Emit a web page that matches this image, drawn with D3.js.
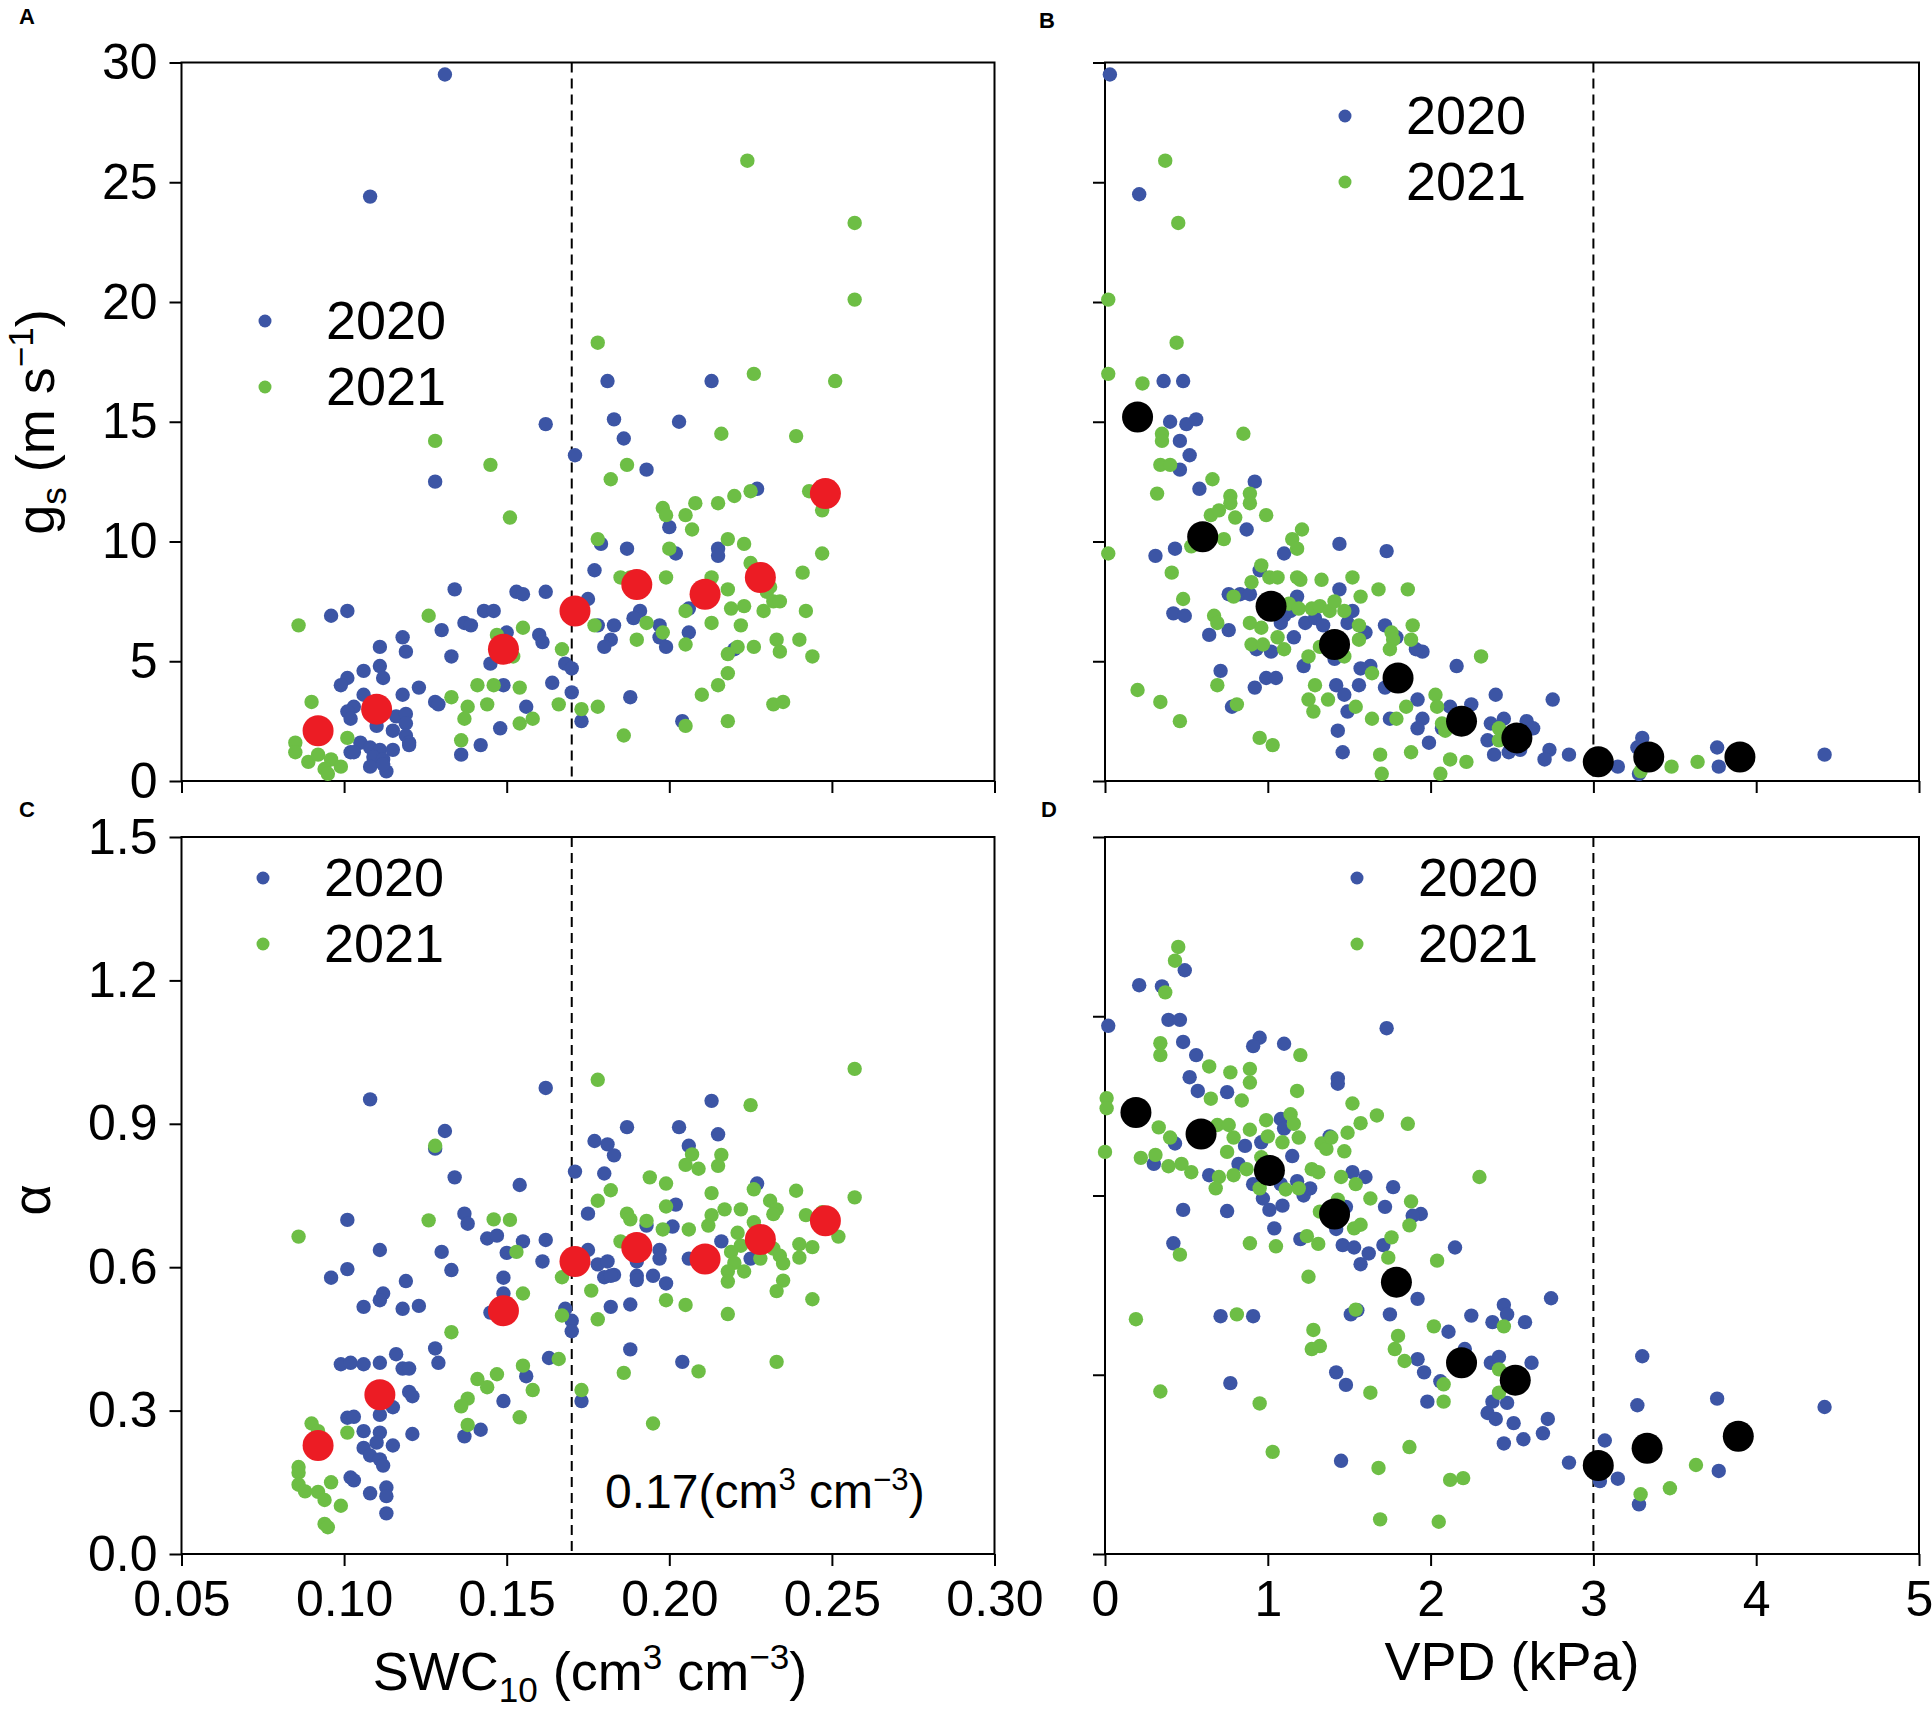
<!DOCTYPE html>
<html>
<head>
<meta charset="utf-8">
<script src="https://cdn.jsdelivr.net/npm/d3@7"></script>
<style>
  body { margin: 0; background: #fff; }
  svg { display: block; font-family: 'Liberation Sans', Arial, sans-serif; }
</style>
</head>
<body>
<svg id="chart" width="1932" height="1710"></svg>
<script>
// ---- data ----
const years = ['2020', '2021']

const gsTicks = [0, 5, 10, 15, 20, 25, 30]
const alphaTicks = [0, 0.3, 0.6, 0.9, 1.2, 1.5]
const alphaTicksD = [0, 0.3, 0.6, 0.9, 1.2]
const swcTicks = [0.05, 0.10, 0.15, 0.20, 0.25, 0.30]
const vpdTicks = [0, 1, 2, 3, 4, 5]

const swcBreak = 0.17
const vpdBreak = 3

// A: SWC vs gs
const swcGs2020 = [[0.131,29.5],[0.108,24.4],[0.181,16.7],[0.213,16.7],[0.162,14.9],[0.183,15.1],[0.186,14.3],[0.203,15.0],[0.171,13.6],[0.193,13.0],[0.128,12.5],[0.227,12.2],[0.200,10.6],[0.202,9.5],[0.179,9.9],[0.187,9.7],[0.215,9.7],[0.215,9.4],[0.177,8.8],[0.134,8.0],[0.153,7.9],[0.155,7.8],[0.162,7.9],[0.175,7.6],[0.143,7.1],[0.146,7.1],[0.096,6.9],[0.101,7.1],[0.130,6.3],[0.137,6.6],[0.139,6.5],[0.150,6.2],[0.160,6.1],[0.161,5.8],[0.178,6.5],[0.183,6.5],[0.182,5.9],[0.180,5.6],[0.191,7.1],[0.189,6.8],[0.197,6.5],[0.197,6.0],[0.199,5.6],[0.206,6.2],[0.206,7.2],[0.220,5.5],[0.118,6.0],[0.119,5.4],[0.111,5.6],[0.133,5.2],[0.145,4.9],[0.111,4.8],[0.112,4.3],[0.106,4.6],[0.101,4.3],[0.099,4.0],[0.168,4.9],[0.170,4.7],[0.164,4.1],[0.149,4.0],[0.123,3.9],[0.118,3.6],[0.106,3.6],[0.170,3.7],[0.188,3.5],[0.128,3.3],[0.129,3.2],[0.156,3.1],[0.103,3.1],[0.101,2.9],[0.102,2.6],[0.116,2.7],[0.119,2.8],[0.119,2.4],[0.173,2.5],[0.204,2.5],[0.148,2.2],[0.110,2.3],[0.115,2.1],[0.119,1.9],[0.120,1.6],[0.120,1.5],[0.142,1.5],[0.136,1.1],[0.105,1.6],[0.102,1.2],[0.103,1.2],[0.108,1.4],[0.111,1.3],[0.115,1.3],[0.109,1.0],[0.112,0.9],[0.108,0.6],[0.113,0.4],[0.112,0.7]]
const swcGs2021 = [[0.224,25.9],[0.257,23.3],[0.257,20.1],[0.178,18.3],[0.226,17.0],[0.251,16.7],[0.128,14.2],[0.216,14.5],[0.239,14.4],[0.145,13.2],[0.187,13.2],[0.182,12.6],[0.151,11.0],[0.198,11.4],[0.199,11.1],[0.205,11.1],[0.208,11.6],[0.215,11.6],[0.220,11.9],[0.225,12.1],[0.243,12.1],[0.207,10.5],[0.178,10.1],[0.218,10.1],[0.223,9.9],[0.200,9.7],[0.247,9.5],[0.247,11.3],[0.225,9.1],[0.185,8.5],[0.188,8.5],[0.199,8.5],[0.213,8.5],[0.218,8.0],[0.241,8.7],[0.230,7.9],[0.232,7.5],[0.234,7.5],[0.229,7.1],[0.219,7.2],[0.223,7.3],[0.205,7.1],[0.242,7.1],[0.126,6.9],[0.086,6.5],[0.155,6.4],[0.177,6.5],[0.193,6.6],[0.213,6.6],[0.222,6.5],[0.198,6.2],[0.190,5.9],[0.205,5.7],[0.167,5.5],[0.221,5.6],[0.226,5.6],[0.233,5.9],[0.234,5.4],[0.240,5.9],[0.244,5.2],[0.218,5.3],[0.147,6.1],[0.152,5.2],[0.218,4.5],[0.141,4.0],[0.146,4.0],[0.154,3.9],[0.215,4.0],[0.210,3.6],[0.232,3.2],[0.235,3.3],[0.133,3.5],[0.138,3.1],[0.144,3.2],[0.166,3.2],[0.173,3.0],[0.178,3.1],[0.090,3.3],[0.137,2.6],[0.154,2.4],[0.158,2.6],[0.218,2.5],[0.205,2.3],[0.186,1.9],[0.101,1.8],[0.136,1.7],[0.085,1.6],[0.085,1.2],[0.089,0.8],[0.092,1.1],[0.096,0.9],[0.099,0.6],[0.094,0.5],[0.095,0.3],[0.231,8.1]]
const swcGsMean = [[0.092,2.1],[0.110,3.0],[0.149,5.5],[0.171,7.1],[0.190,8.2],[0.211,7.8],[0.228,8.5],[0.248,12.0]]

// B: VPD vs gs
const vpdGs2020 = [[0.03,29.5],[0.21,24.5],[0.36,16.7],[0.48,16.7],[0.40,15.0],[0.50,14.9],[0.56,15.1],[0.46,14.2],[0.52,13.6],[0.46,13.0],[0.92,12.5],[0.58,12.2],[0.87,10.5],[0.31,9.4],[0.43,9.7],[1.44,9.9],[1.73,9.6],[1.10,9.5],[0.95,8.8],[0.76,7.8],[0.83,7.8],[0.89,7.8],[1.18,7.7],[1.44,8.0],[1.52,7.1],[0.42,7.0],[0.49,6.9],[1.10,6.9],[1.14,7.1],[1.08,6.6],[1.23,6.6],[1.29,6.8],[1.34,6.5],[1.49,6.6],[1.60,6.2],[1.72,6.5],[1.79,6.0],[0.64,6.1],[0.76,6.3],[0.93,5.5],[1.02,5.4],[1.16,6.0],[1.41,5.1],[1.95,5.4],[1.91,5.5],[1.63,4.8],[1.57,4.7],[1.22,4.8],[0.71,4.6],[2.16,4.8],[0.99,4.3],[1.05,4.3],[0.92,3.9],[1.56,4.0],[1.42,4.0],[1.72,3.9],[1.47,3.6],[1.49,2.9],[1.92,3.4],[2.25,3.2],[2.40,3.6],[2.75,3.4],[0.78,3.1],[2.12,3.1],[1.95,2.6],[1.92,2.2],[1.75,2.6],[1.43,2.1],[2.07,2.2],[2.37,2.4],[2.45,2.6],[2.59,2.5],[2.63,2.2],[2.58,1.9],[2.35,1.7],[2.39,1.1],[2.48,1.2],[2.55,1.3],[1.99,1.6],[2.73,1.3],[2.70,0.9],[2.85,1.1],[1.46,1.2],[3.30,1.8],[3.27,1.4],[3.15,0.6],[3.28,0.3],[3.76,1.4],[3.77,0.6],[4.42,1.1]]
const vpdGs2021 = [[0.37,25.9],[0.45,23.3],[0.02,20.1],[0.44,18.3],[0.02,17.0],[0.23,16.6],[0.35,14.5],[0.35,14.2],[0.85,14.5],[0.34,13.2],[0.40,13.2],[0.32,12.0],[0.66,12.6],[0.77,11.9],[0.77,11.6],[0.89,12.0],[0.89,11.6],[0.65,11.1],[0.70,11.3],[0.80,11.0],[0.99,11.1],[0.73,10.1],[0.53,9.8],[1.15,10.1],[1.21,10.5],[1.18,9.7],[0.02,9.5],[0.41,8.7],[0.96,9.0],[0.90,8.3],[1.01,8.5],[1.06,8.5],[1.18,8.5],[1.20,8.4],[1.33,8.4],[1.52,8.5],[1.68,8.0],[1.86,8.0],[0.79,7.7],[1.57,7.7],[0.48,7.6],[1.13,7.4],[1.19,7.2],[1.27,7.2],[1.32,7.3],[1.38,7.1],[1.41,7.5],[1.47,7.1],[0.67,6.9],[0.69,6.6],[0.89,6.6],[0.96,6.4],[1.06,6.0],[0.90,5.7],[0.97,5.7],[1.10,5.5],[1.56,6.5],[1.56,5.9],[1.76,6.2],[1.77,5.9],[1.89,6.5],[1.88,5.9],[1.75,5.5],[1.25,5.2],[1.32,5.6],[1.47,5.2],[2.31,5.2],[1.64,4.5],[0.69,4.0],[0.20,3.8],[0.81,3.2],[0.34,3.3],[1.29,4.0],[1.25,3.4],[1.28,2.9],[1.37,3.4],[1.54,3.1],[1.64,2.6],[1.79,2.6],[1.85,3.1],[2.03,3.6],[2.04,3.1],[2.07,2.4],[2.09,2.1],[2.42,2.2],[2.42,1.7],[0.46,2.5],[0.95,1.8],[1.03,1.5],[1.69,1.1],[1.70,0.3],[1.88,1.2],[2.06,0.3],[2.12,0.9],[2.22,0.8],[3.29,0.4],[3.48,0.6],[3.64,0.8]]
const vpdGsMean = [[0.20,15.2],[0.60,10.2],[1.02,7.3],[1.41,5.7],[1.80,4.3],[2.19,2.5],[2.53,1.8],[3.03,0.8],[3.34,1.0],[3.90,1.0]]

// C: SWC vs alpha
const swcAlpha2020 = [[0.108,0.951],[0.162,0.975],[0.213,0.948],[0.187,0.893],[0.203,0.893],[0.215,0.878],[0.131,0.885],[0.128,0.848],[0.177,0.864],[0.181,0.857],[0.183,0.834],[0.206,0.854],[0.171,0.800],[0.180,0.796],[0.134,0.788],[0.227,0.775],[0.154,0.772],[0.101,0.699],[0.137,0.712],[0.138,0.691],[0.175,0.712],[0.202,0.731],[0.201,0.685],[0.193,0.687],[0.144,0.660],[0.147,0.666],[0.155,0.654],[0.162,0.657],[0.175,0.636],[0.130,0.632],[0.111,0.636],[0.133,0.594],[0.101,0.596],[0.096,0.578],[0.150,0.630],[0.161,0.612],[0.119,0.571],[0.112,0.545],[0.111,0.531],[0.106,0.517],[0.118,0.513],[0.123,0.519],[0.149,0.578],[0.149,0.545],[0.145,0.505],[0.168,0.513],[0.170,0.488],[0.170,0.466],[0.178,0.606],[0.181,0.612],[0.183,0.584],[0.180,0.579],[0.182,0.582],[0.190,0.612],[0.190,0.582],[0.190,0.573],[0.195,0.582],[0.197,0.636],[0.197,0.618],[0.199,0.566],[0.182,0.517],[0.188,0.522],[0.206,0.618],[0.216,0.654],[0.225,0.618],[0.188,0.428],[0.204,0.402],[0.163,0.410],[0.128,0.430],[0.129,0.400],[0.116,0.418],[0.118,0.388],[0.120,0.388],[0.156,0.372],[0.099,0.397],[0.102,0.400],[0.106,0.397],[0.111,0.400],[0.120,0.339],[0.121,0.330],[0.115,0.307],[0.111,0.291],[0.149,0.320],[0.173,0.320],[0.137,0.246],[0.142,0.260],[0.101,0.285],[0.103,0.287],[0.106,0.257],[0.111,0.254],[0.110,0.233],[0.115,0.227],[0.121,0.251],[0.106,0.222],[0.108,0.206],[0.111,0.198],[0.112,0.185],[0.102,0.160],[0.103,0.154],[0.113,0.139],[0.108,0.127],[0.113,0.121],[0.113,0.085]]
const swcAlpha2021 = [[0.257,1.015],[0.178,0.992],[0.225,0.939],[0.128,0.854],[0.207,0.836],[0.205,0.814],[0.209,0.806],[0.216,0.835],[0.215,0.812],[0.194,0.788],[0.199,0.775],[0.226,0.763],[0.239,0.760],[0.257,0.746],[0.182,0.761],[0.178,0.739],[0.213,0.755],[0.199,0.727],[0.231,0.739],[0.233,0.721],[0.217,0.721],[0.213,0.709],[0.222,0.721],[0.226,0.694],[0.232,0.711],[0.242,0.709],[0.247,0.715],[0.126,0.698],[0.146,0.700],[0.151,0.699],[0.187,0.712],[0.188,0.700],[0.193,0.697],[0.198,0.679],[0.206,0.679],[0.212,0.687],[0.221,0.672],[0.222,0.645],[0.227,0.660],[0.232,0.639],[0.234,0.624],[0.235,0.608],[0.240,0.648],[0.240,0.620],[0.244,0.642],[0.247,0.700],[0.252,0.664],[0.086,0.664],[0.153,0.632],[0.185,0.654],[0.219,0.632],[0.220,0.609],[0.218,0.591],[0.223,0.591],[0.228,0.618],[0.235,0.572],[0.218,0.570],[0.155,0.545],[0.176,0.551],[0.233,0.550],[0.167,0.579],[0.199,0.531],[0.205,0.521],[0.244,0.533],[0.178,0.491],[0.218,0.502],[0.167,0.499],[0.133,0.464],[0.166,0.408],[0.155,0.394],[0.141,0.366],[0.147,0.376],[0.144,0.349],[0.158,0.343],[0.186,0.379],[0.209,0.382],[0.233,0.402],[0.173,0.343],[0.138,0.325],[0.136,0.309],[0.154,0.286],[0.138,0.270],[0.195,0.273],[0.090,0.273],[0.092,0.257],[0.101,0.254],[0.086,0.182],[0.086,0.170],[0.086,0.145],[0.088,0.131],[0.092,0.130],[0.094,0.113],[0.096,0.150],[0.099,0.101],[0.094,0.063],[0.095,0.056]]
const swcAlphaMean = [[0.092,0.227],[0.111,0.333],[0.149,0.509],[0.171,0.612],[0.190,0.641],[0.211,0.617],[0.228,0.658],[0.248,0.697]]

// D: VPD vs alpha
const vpdAlpha2020 = [[0.02,0.884],[0.21,0.952],[0.35,0.950],[0.49,0.977],[0.39,0.894],[0.46,0.894],[0.48,0.857],[0.56,0.835],[0.95,0.864],[0.91,0.850],[1.10,0.854],[1.73,0.880],[0.52,0.798],[0.57,0.775],[0.75,0.773],[1.43,0.796],[1.43,0.787],[0.43,0.687],[0.30,0.653],[0.64,0.634],[0.86,0.683],[0.96,0.689],[0.82,0.653],[0.91,0.619],[1.08,0.728],[1.10,0.712],[1.15,0.666],[1.08,0.619],[0.97,0.595],[1.01,0.576],[1.09,0.583],[1.18,0.624],[1.22,0.600],[1.26,0.612],[1.38,0.699],[1.52,0.639],[1.60,0.631],[1.48,0.581],[1.42,0.544],[1.77,0.614],[1.72,0.581],[1.94,0.569],[1.89,0.566],[1.04,0.545],[1.20,0.527],[1.46,0.517],[1.53,0.513],[1.57,0.485],[1.62,0.503],[1.71,0.517],[0.48,0.576],[0.75,0.574],[0.42,0.520],[1.92,0.427],[1.75,0.401],[1.51,0.401],[1.55,0.408],[0.71,0.398],[0.91,0.398],[2.15,0.513],[2.74,0.428],[2.25,0.399],[2.11,0.372],[2.45,0.417],[2.38,0.388],[2.47,0.401],[2.58,0.388],[2.21,0.343],[1.92,0.326],[1.96,0.304],[2.06,0.289],[2.37,0.320],[2.42,0.330],[2.62,0.320],[1.42,0.304],[1.48,0.283],[0.77,0.286],[1.98,0.255],[2.38,0.255],[2.47,0.253],[2.35,0.236],[2.40,0.226],[2.51,0.219],[2.72,0.226],[2.69,0.202],[2.57,0.192],[2.45,0.185],[2.85,0.153],[3.07,0.190],[3.04,0.122],[3.15,0.126],[3.30,0.331],[3.27,0.249],[3.37,0.184],[3.28,0.083],[3.76,0.260],[3.77,0.139],[4.42,0.246],[1.45,0.156]]
const vpdAlpha2021 = [[0.45,1.016],[0.43,0.993],[0.37,0.940],[0.34,0.855],[0.34,0.835],[1.20,0.835],[0.64,0.816],[0.77,0.806],[0.89,0.812],[0.89,0.789],[1.18,0.775],[0.65,0.762],[0.84,0.759],[0.01,0.763],[0.01,0.746],[1.52,0.754],[1.67,0.734],[1.86,0.720],[1.57,0.721],[1.49,0.705],[1.14,0.736],[1.16,0.720],[1.19,0.697],[0.99,0.726],[1.00,0.699],[0.69,0.718],[0.76,0.718],[0.79,0.697],[0.89,0.710],[0.33,0.714],[0.40,0.697],[0.31,0.668],[0.22,0.663],[0.00,0.673],[0.75,0.673],[1.09,0.689],[1.33,0.687],[1.36,0.678],[1.39,0.697],[1.47,0.674],[0.96,0.664],[1.00,0.656],[0.39,0.649],[0.47,0.653],[0.53,0.639],[0.70,0.631],[0.79,0.634],[0.87,0.644],[0.68,0.612],[0.95,0.612],[1.11,0.610],[1.19,0.612],[1.27,0.644],[1.31,0.639],[1.45,0.631],[1.54,0.619],[1.63,0.595],[1.43,0.593],[1.88,0.590],[1.87,0.550],[1.32,0.573],[1.53,0.545],[1.57,0.551],[1.76,0.530],[1.24,0.532],[1.31,0.519],[1.05,0.515],[0.89,0.520],[0.46,0.501],[1.74,0.496],[2.04,0.491],[2.30,0.631],[1.25,0.464],[1.54,0.409],[0.81,0.401],[0.19,0.393],[2.02,0.381],[2.45,0.381],[1.28,0.375],[1.80,0.365],[1.27,0.343],[1.32,0.348],[1.78,0.343],[1.84,0.323],[2.42,0.309],[2.08,0.284],[2.08,0.255],[2.42,0.270],[1.63,0.270],[0.34,0.272],[0.95,0.252],[1.03,0.171],[1.87,0.179],[1.68,0.144],[2.12,0.124],[2.20,0.127],[1.69,0.058],[2.05,0.054],[3.63,0.149],[3.47,0.110],[3.29,0.100]]
const vpdAlphaMean = [[0.19,0.739],[0.59,0.703],[1.01,0.642],[1.41,0.569],[1.79,0.455],[2.19,0.320],[2.52,0.291],[3.03,0.148],[3.33,0.177],[3.89,0.197]]

// ---- styling ----
const blue = '#3c55a5'
const green = '#6dbe45'
const red = '#ec1c24'
const black = '#000'
const tickFont = 50
const titleFont = 54

const svg = d3.select('#chart')

// text with sub/superscripts: parts = [[text, 'sub'|'sup'|null], ...]
function richText (sel, parts, size) {
  let shift = 0
  parts.forEach(function (p) {
    let target = p[1] === 'sup' ? -0.38 * size : p[1] === 'sub' ? 0.22 * size : 0
    sel.append('tspan')
      .attr('dy', target - shift)
      .attr('font-size', p[1] ? size * 0.65 : size)
      .text(p[0])
    shift = target
  })
}

function panel (cfg) {
  const x = d3.scaleLinear().domain(cfg.xDomain).range([cfg.left, cfg.right])
  const y = d3.scaleLinear().domain(cfg.yDomain).range([cfg.bottom, cfg.top])

  const g = svg.append('g')

  // axes
  const yAxis = d3.axisLeft(y).tickValues(cfg.yTicks).tickSize(12).tickSizeOuter(0).tickPadding(12)
    .tickFormat(cfg.yLabels ? d3.format(cfg.yFormat) : '')
  const xAxis = d3.axisBottom(x).tickValues(cfg.xTicks).tickSize(12).tickSizeOuter(0).tickPadding(14)
    .tickFormat(cfg.xLabels ? d3.format(cfg.xFormat) : '')

  const ya = g.append('g').attr('transform', 'translate(' + cfg.left + ',0)').call(yAxis)
  const xa = g.append('g').attr('transform', 'translate(0,' + cfg.bottom + ')').call(xAxis)
  ;[ya, xa].forEach(function (a) {
    a.select('.domain').remove()
    a.selectAll('line').attr('stroke', '#000').attr('stroke-width', 2)
    a.selectAll('text').attr('font-size', tickFont).attr('fill', '#000')
      .attr('font-family', "'Liberation Sans', Arial, sans-serif")
  })

  // frame
  g.append('rect')
    .attr('x', cfg.left).attr('y', cfg.top)
    .attr('width', cfg.right - cfg.left).attr('height', cfg.bottom - cfg.top)
    .attr('fill', 'none').attr('stroke', '#000').attr('stroke-width', 2)

  // threshold line
  g.append('line')
    .attr('x1', x(cfg.breakAt)).attr('x2', x(cfg.breakAt))
    .attr('y1', cfg.top).attr('y2', cfg.bottom)
    .attr('stroke', '#000').attr('stroke-width', 2).attr('stroke-dasharray', '10,6')

  // points
  ;[[cfg.s2020, blue], [cfg.s2021, green]].forEach(function (s) {
    g.append('g').selectAll('circle')
      .data(s[0])
      .enter().append('circle')
      .attr('cx', function (d) { return x(d[0]) })
      .attr('cy', function (d) { return y(d[1]) })
      .attr('r', 7.2)
      .attr('fill', s[1])
  })

  g.append('g').selectAll('circle')
    .data(cfg.mean)
    .enter().append('circle')
    .attr('cx', function (d) { return x(d[0]) })
    .attr('cy', function (d) { return y(d[1]) })
    .attr('r', 15.5)
    .attr('fill', cfg.meanColor)

  // legend
  ;[[years[0], blue], [years[1], green]].forEach(function (l, i) {
    const ly = cfg.legend[1] + i * 66
    g.append('circle').attr('cx', cfg.legend[0]).attr('cy', ly).attr('r', 6.5).attr('fill', l[1])
    g.append('text').attr('x', cfg.legend[0] + 61).attr('y', ly + 18)
      .attr('font-size', titleFont).text(l[0])
  })

  // panel letter
  g.append('text').attr('x', cfg.letter[0]).attr('y', cfg.letter[1])
    .attr('font-size', 22).attr('font-weight', 'bold').text(cfg.name)

  return { x: x, y: y, g: g }
}

const colL = [181.5, 994.5]
const colR = [1105, 1919]
const rowT = [62.5, 781]
const rowB = [837, 1554]

panel({
  name: 'A', left: colL[0], right: colL[1], top: rowT[0], bottom: rowT[1],
  xDomain: [0.05, 0.30], yDomain: [0, 30], xTicks: swcTicks, yTicks: gsTicks,
  xLabels: false, yLabels: true, yFormat: 'd',
  breakAt: swcBreak, s2020: swcGs2020, s2021: swcGs2021, mean: swcGsMean, meanColor: red,
  legend: [265, 321], letter: [19, 24]
})

panel({
  name: 'B', left: colR[0], right: colR[1], top: rowT[0], bottom: rowT[1],
  xDomain: [0, 5], yDomain: [0, 30], xTicks: vpdTicks, yTicks: gsTicks,
  xLabels: false, yLabels: false,
  breakAt: vpdBreak, s2020: vpdGs2020, s2021: vpdGs2021, mean: vpdGsMean, meanColor: black,
  legend: [1345, 116], letter: [1039, 28]
})

panel({
  name: 'C', left: colL[0], right: colL[1], top: rowB[0], bottom: rowB[1],
  xDomain: [0.05, 0.30], yDomain: [0, 1.5], xTicks: swcTicks, yTicks: alphaTicks,
  xLabels: true, xFormat: '.2f', yLabels: true, yFormat: '.1f',
  breakAt: swcBreak, s2020: swcAlpha2020, s2021: swcAlpha2021, mean: swcAlphaMean, meanColor: red,
  legend: [263, 878], letter: [19, 817]
})

panel({
  name: 'D', left: colR[0], right: colR[1], top: rowB[0], bottom: rowB[1],
  xDomain: [0, 5], yDomain: [0, 1.2], xTicks: vpdTicks, yTicks: alphaTicksD,
  xLabels: true, xFormat: 'd', yLabels: false,
  breakAt: vpdBreak, s2020: vpdAlpha2020, s2021: vpdAlpha2021, mean: vpdAlphaMean, meanColor: black,
  legend: [1357, 878], letter: [1041, 817]
})

// axis titles
richText(svg.append('text').attr('text-anchor', 'middle')
  .attr('transform', 'translate(54,422) rotate(-90)'),
  [['g', null], ['s', 'sub'], [' (m s', null], ['\u22121', 'sup'], [')', null]], titleFont)

svg.append('text').attr('text-anchor', 'middle')
  .attr('transform', 'translate(50,1200) rotate(-90)')
  .attr('font-size', titleFont).text('\u03b1')

richText(svg.append('text').attr('text-anchor', 'middle').attr('x', 590).attr('y', 1690),
  [['SWC', null], ['10', 'sub'], [' (cm', null], ['3', 'sup'], [' cm', null], ['\u22123', 'sup'], [')', null]], titleFont)

svg.append('text').attr('text-anchor', 'middle').attr('x', 1512).attr('y', 1680)
  .attr('font-size', titleFont).text('VPD (kPa)')

// threshold annotation
richText(svg.append('text').attr('x', 605).attr('y', 1508),
  [['0.17(cm', null], ['3', 'sup'], [' cm', null], ['\u22123', 'sup'], [')', null]], 48)
</script>
</body>
</html>
